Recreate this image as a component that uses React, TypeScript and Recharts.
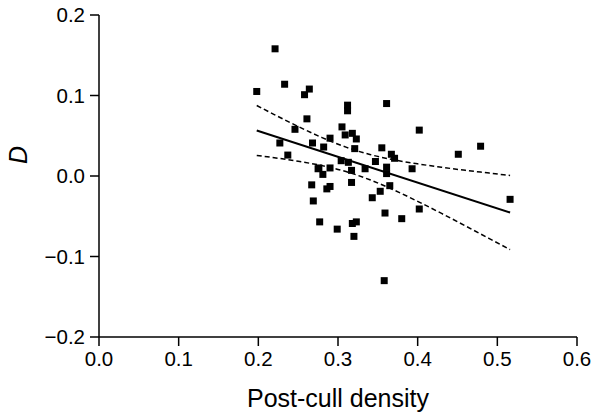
import {
  ComposedChart,
  Scatter,
  Line,
  XAxis,
  YAxis,
  Label,
} from "recharts";

const densityX = [
  0.221, 0.233, 0.198, 0.264, 0.258, 0.261, 0.246, 0.227, 0.268, 0.237,
  0.275, 0.267, 0.269, 0.277, 0.312, 0.312, 0.361, 0.305, 0.318, 0.309,
  0.323, 0.29, 0.282, 0.321, 0.355, 0.367, 0.371, 0.347, 0.304, 0.313,
  0.276, 0.29, 0.317, 0.334, 0.361, 0.361, 0.281, 0.317, 0.286, 0.29,
  0.365, 0.353, 0.343, 0.359, 0.38, 0.402, 0.299, 0.318, 0.323, 0.32,
  0.358, 0.402, 0.479, 0.451, 0.393, 0.516,
];
const dValues = [
  0.158, 0.114, 0.105, 0.108, 0.101, 0.071, 0.058, 0.041, 0.041, 0.026,
  0.009, -0.011, -0.031, -0.057, 0.088, 0.081, 0.09, 0.061, 0.053, 0.051,
  0.046, 0.047, 0.036, 0.034, 0.035, 0.027, 0.022, 0.018, 0.019, 0.017,
  0.01, 0.01, 0.007, 0.009, 0.011, 0.003, 0.002, -0.008, -0.016, -0.013,
  -0.012, -0.019, -0.027, -0.046, -0.053, -0.041, -0.066, -0.059, -0.057,
  -0.075, -0.13, 0.057, 0.037, 0.027, 0.009, -0.029,
];

// fitted line end points
const fitX = [0.198, 0.516];
const fitY = [0.0566, -0.0454];

// dashed confidence band, sampled along x
const bandX = [0.198, 0.22, 0.25, 0.28, 0.31, 0.34, 0.37, 0.4, 0.43, 0.46, 0.49, 0.516];
const bandUpper = [0.0876, 0.0763, 0.0615, 0.0477, 0.0359, 0.0267, 0.0201, 0.0151, 0.0109, 0.007, 0.0036, 0.0006];
const bandLower = [0.0256, 0.0227, 0.0183, 0.0129, 0.0055, -0.0047, -0.0173, -0.0315, -0.0465, -0.062, -0.0778, -0.0914];

const xTicks = [0, 0.1, 0.2, 0.3, 0.4, 0.5, 0.6];
const yTicks = [-0.2, -0.1, 0, 0.1, 0.2];

const points = densityX.map((x, i) => ({ x, d: dValues[i] }));
const fit = fitX.map((x, i) => ({ x, d: fitY[i] }));
const band = bandX.map((x, i) => ({ x, upper: bandUpper[i], lower: bandLower[i] }));

const font = "'Liberation Sans', Arial, sans-serif";
const fmt = (v: number) => (v < 0 ? "\u2212" : "") + Math.abs(v).toFixed(1);

const Square = (props: any) => {
  const { cx, cy } = props;
  if (cx == null || cy == null) return null;
  return <rect x={cx - 3.5} y={cy - 3.5} width={7} height={7} fill="#000" />;
};

export default function App() {
  return (
    <div style={{ position: "absolute", left: 0, top: 0, background: "#fff" }}>
      <ComposedChart
        width={605}
        height={419}
        margin={{ top: 15, right: 28, bottom: 2, left: 0 }}
      >
        <XAxis
          type="number"
          dataKey="x"
          domain={[0, 0.6]}
          ticks={xTicks}
          tickFormatter={fmt}
          allowDataOverflow
          height={80}
          tickSize={9}
          tickMargin={5}
          stroke="#000"
          strokeWidth={1.5}
          tick={{ fill: "#000", fontSize: 20.5, fontFamily: font }}
        >
          <Label
            value="Post-cull density"
            position="insideBottom"
            offset={10}
            fill="#000"
            fontSize={25}
            fontFamily={font}
          />
        </XAxis>
        <YAxis
          type="number"
          domain={[-0.2, 0.2]}
          ticks={yTicks}
          tickFormatter={fmt}
          allowDataOverflow
          width={99}
          tickSize={9}
          tickMargin={5}
          stroke="#000"
          strokeWidth={1.5}
          tick={{ fill: "#000", fontSize: 20.5, fontFamily: font }}
        >
          <Label
            value="D"
            angle={-90}
            position="center"
            dx={-31}
            dy={-21}
            fill="#000"
            fontSize={25}
            fontStyle="italic"
            fontFamily={font}
          />
        </YAxis>
        <Line
          data={band}
          dataKey="upper"
          type="monotone"
          stroke="#000"
          strokeWidth={1.5}
          strokeDasharray="5 3"
          dot={false}
          isAnimationActive={false}
        />
        <Line
          data={band}
          dataKey="lower"
          type="monotone"
          stroke="#000"
          strokeWidth={1.5}
          strokeDasharray="5 3"
          dot={false}
          isAnimationActive={false}
        />
        <Line
          data={fit}
          dataKey="d"
          type="linear"
          stroke="#000"
          strokeWidth={2}
          dot={false}
          isAnimationActive={false}
        />
        <Scatter
          data={points}
          dataKey="d"
          shape={Square}
          isAnimationActive={false}
        />
      </ComposedChart>
    </div>
  );
}
